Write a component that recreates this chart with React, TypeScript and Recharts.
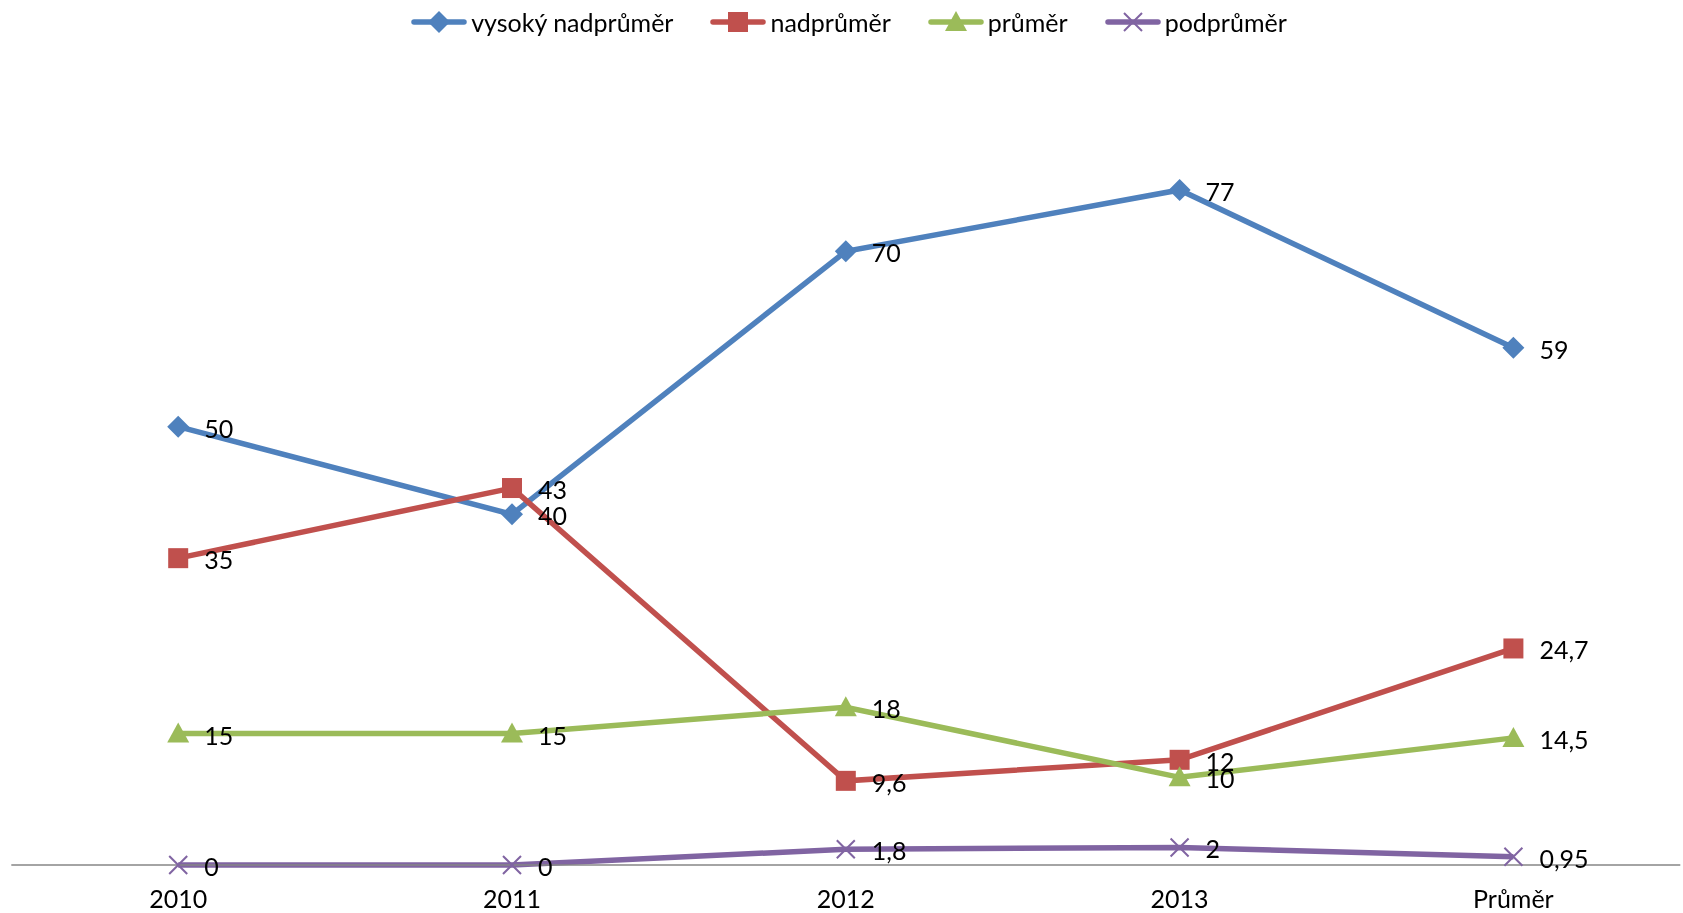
import React from 'react';
import { LineChart, Line, XAxis, YAxis } from 'recharts';

const categories = ['2010', '2011', '2012', '2013', 'Průměr'];
const vysoky = [50, 40, 70, 77, 59];
const nadprumer = [35, 43, 9.6, 12, 24.7];
const prumer = [15, 15, 18, 10, 14.5];
const podprumer = [0, 0, 1.8, 2, 0.95];

const colors = {
  blue: '#4F81BD',
  red: '#C0504D',
  green: '#9BBB59',
  purple: '#8064A2',
  axis: '#868686',
};

const FONT = 'Lato, "Open Sans", sans-serif';

const data = categories.map((name, i) => ({
  name,
  vysoky: vysoky[i],
  nadprumer: nadprumer[i],
  prumer: prumer[i],
  podprumer: podprumer[i],
}));

const series = [
  { key: 'vysoky', name: 'vysoký nadprůměr', color: colors.blue, shape: 'diamond' },
  { key: 'nadprumer', name: 'nadprůměr', color: colors.red, shape: 'square' },
  { key: 'prumer', name: 'průměr', color: colors.green, shape: 'triangle' },
  { key: 'podprumer', name: 'podprůměr', color: colors.purple, shape: 'cross' },
];

const Marker = ({ cx, cy, shape, color }: any) => {
  if (cx == null || cy == null) return null;
  if (shape === 'diamond') {
    const r = 11;
    return <path d={`M${cx},${cy - r}L${cx + r},${cy}L${cx},${cy + r}L${cx - r},${cy}Z`} fill={color} />;
  }
  if (shape === 'square') {
    const r = 10;
    return <rect x={cx - r} y={cy - r} width={2 * r} height={2 * r} fill={color} />;
  }
  if (shape === 'triangle') {
    const r = 11;
    return <path d={`M${cx},${cy - r}L${cx + r},${cy + 9}L${cx - r},${cy + 9}Z`} fill={color} />;
  }
  const r = 9;
  return (
    <path
      d={`M${cx - r},${cy - r}L${cx + r},${cy + r}M${cx + r},${cy - r}L${cx - r},${cy + r}`}
      stroke={color}
      strokeWidth={2}
      fill="none"
    />
  );
};

const fmt = (v: number) => String(v).replace('.', ',');

const ValueLabel = (props: any) => {
  const { x, y, value } = props;
  return (
    <text x={x + 26} y={y + 1} dominantBaseline="central" fontSize={25} fontFamily={FONT} fill="#000">
      {fmt(value)}
    </text>
  );
};

const LegendIcon = ({ shape, color }: any) => (
  <svg width={56} height={26} style={{ display: 'block' }}>
    <line x1={3} y1={13} x2={53} y2={13} stroke={color} strokeWidth={5.5} strokeLinecap="round" />
    <Marker cx={28} cy={13} shape={shape} color={color} />
  </svg>
);

const ChartLegend = () => (
  <div
    style={{
      position: 'absolute',
      top: 8,
      left: 18,
      width: 1662,
      height: 28,
      display: 'flex',
      justifyContent: 'center',
      alignItems: 'center',
      gap: 37,
      fontFamily: FONT,
      fontSize: 25,
    }}
  >
    {series.map((s) => (
      <div key={s.key} style={{ display: 'flex', alignItems: 'center', gap: 4 }}>
        <LegendIcon shape={s.shape} color={s.color} />
        <span>{s.name}</span>
      </div>
    ))}
  </div>
);

export default function App() {
  return (
    <div style={{ position: 'fixed', top: 0, left: 0, width: 1683, height: 913 }}>
      <LineChart width={1683} height={913} data={data} margin={{ top: 76, right: 2.7, left: 11.3, bottom: 18 }}>
        <XAxis
          dataKey="name"
          padding={{ left: 166.9, right: 166.9 }}
          axisLine={{ stroke: colors.axis, strokeWidth: 1.5 }}
          tickLine={false}
          tick={{ fontSize: 25, fontFamily: FONT, fill: '#000' }}
          tickMargin={19}
          height={30}
        />
        <YAxis hide domain={[0, 90]} />
        {series.map((s) => (
          <Line
            key={s.key}
            type="linear"
            dataKey={s.key}
            name={s.name}
            stroke={s.color}
            strokeWidth={5.5}
            dot={(p: any) => <Marker key={`${s.key}-${p.index}`} cx={p.cx} cy={p.cy} shape={s.shape} color={s.color} />}
            activeDot={false}
            label={<ValueLabel />}
            isAnimationActive={false}
          />
        ))}
      </LineChart>
      <ChartLegend />
    </div>
  );
}
